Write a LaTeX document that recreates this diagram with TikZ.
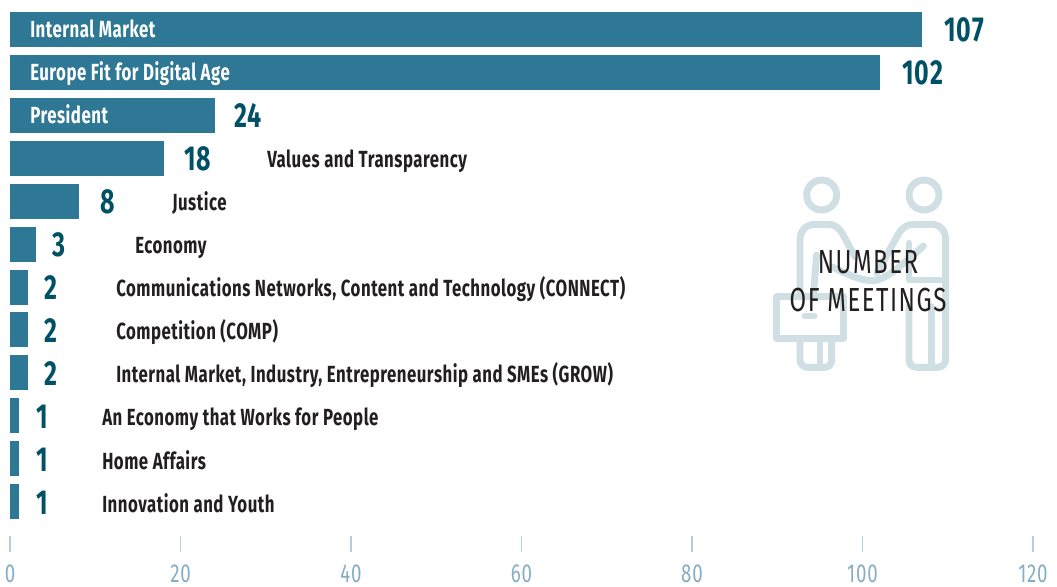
\documentclass[tikz,border=0pt]{standalone}
\usepackage{fontspec}
\setmainfont[FakeStretch=0.72]{Fira Sans}
\definecolor{barcol}{HTML}{2E7895}
\definecolor{valcol}{HTML}{005066}
\definecolor{txtcol}{HTML}{231F20}
\definecolor{tickcol}{HTML}{B4CEDB}
\definecolor{axcol}{HTML}{86ADC3}
\definecolor{iconcol}{HTML}{D0DFE3}
\tikzset{
  barbox/.style={fill=barcol,draw=none,inner sep=0pt,minimum height=26.25pt,anchor=north west},
  vallabel/.style={anchor=base west,inner sep=0pt,text=valcol,font=\fontsize{26}{26}\selectfont\bfseries\addfontfeature{LetterSpace=3}},
  inlabel/.style={anchor=base west,inner sep=0pt,text=white,font=\fontsize{17.5}{18}\selectfont\bfseries\addfontfeature{LetterSpace=2.2}},
  outlabel/.style={anchor=base west,inner sep=0pt,text=txtcol,font=\fontsize{17.5}{18}\selectfont\bfseries\addfontfeature{LetterSpace=2.2}},
  axlabel/.style={anchor=base,inner sep=0pt,text=axcol,font=\fontsize{19.5}{20}\selectfont\addfontfeature{LetterSpace=3}},
  tickline/.style={draw=tickcol,line width=1.1pt},
  iconline/.style={draw=iconcol,line width=5.2pt,line cap=round,line join=round},
  titlelabel/.style={anchor=base,inner sep=0pt,text=txtcol,font=\fontsize{25}{25}\selectfont\addfontfeature{LetterSpace=4.5}}
}
\begin{document}
\begin{tikzpicture}[x=0.75pt,y=-0.75pt]
\useasboundingbox (0,0) rectangle (1057,586);
% icon
\begin{scope}[shift={(760,160)},x=0.25pt,y=-0.25pt]
\draw[iconline] (185,105) circle[radius=45];
\draw[iconline] (492,105) circle[radius=45];
\draw[iconline] (120,405) -- (120,240) .. controls (120,210) and (140,193) .. (165,193) -- (205,193) .. controls (225,193) and (238,205) .. (248,222) -- (285,290);
\draw[iconline] (170,285) -- (160,405);
\draw[iconline] (215,320) .. controls (255,340) and (300,362) .. (338,362) .. controls (365,362) and (400,340) .. (490,258);
\draw[iconline] (350,340) -- (415,222) .. controls (425,205) and (440,193) .. (460,193) -- (515,193) .. controls (540,193) and (557,212) .. (557,240) -- (557,600) .. controls (557,612) and (545,622) .. (533,622) -- (470,622) .. controls (457,622) and (447,612) .. (447,600) -- (447,440);
\draw[iconline] (447,250) -- (447,360) -- (557,360);
\draw[iconline] (515,440) -- (515,622);
\draw[iconline] (50,410) -- (250,410) -- (250,535) -- (50,535) -- cycle;
\draw[iconline] (135,468) -- (162,468);
\draw[iconline] (120,535) -- (120,600) .. controls (120,612) and (130,622) .. (142,622) -- (195,622) .. controls (207,622) and (215,612) .. (215,600) -- (215,535);
\draw[iconline] (180,535) -- (180,622);
\end{scope}
% bars
\node[barbox,minimum width=684pt] (b1) at (10,12) {};
\node[barbox,minimum width=652.5pt] (b2) at (10,55) {};
\node[barbox,minimum width=153.75pt] (b3) at (10,98) {};
\node[barbox,minimum width=115.5pt] (b4) at (10,141) {};
\node[barbox,minimum width=51.75pt] (b5) at (10,183.5) {};
\node[barbox,minimum width=19.5pt] (b6) at (10,226.5) {};
\node[barbox,minimum width=13.5pt] (b7) at (10,269.5) {};
\node[barbox,minimum width=13.5pt] (b8) at (10,312) {};
\node[barbox,minimum width=13.5pt] (b9) at (10,355) {};
\node[barbox,minimum width=6.5pt] (b10) at (10,398) {};
\node[barbox,minimum width=6.5pt] (b11) at (10,441) {};
\node[barbox,minimum width=6.5pt] (b12) at (10,483.5) {};
% values
\node[vallabel] (v1) at (944,41) {107};
\node[vallabel] (v2) at (902,84) {102};
\node[vallabel] (v3) at (234,127) {24};
\node[vallabel] (v4) at (184,170) {18};
\node[vallabel] (v5) at (100,213) {8};
\node[vallabel] (v6) at (52,256) {3};
\node[vallabel] (v7) at (44,299) {2};
\node[vallabel] (v8) at (44,342) {2};
\node[vallabel] (v9) at (44,385) {2};
\node[vallabel] (v10) at (36,428) {1};
\node[vallabel] (v11) at (36,471) {1};
\node[vallabel] (v12) at (36,514) {1};
% labels
\node[inlabel] (l1) at (30,37.5) {Internal Market};
\node[inlabel] (l2) at (30,80.5) {Europe Fit for Digital Age};
\node[inlabel] (l3) at (30,123.5) {President};
\node[outlabel] (l4) at (267,167) {Values and Transparency};
\node[outlabel] (l5) at (172,210) {Justice};
\node[outlabel] (l6) at (135,253) {Economy};
\node[outlabel] (l7) at (116,296) {Communications Networks, Content and Technology (CONNECT)};
\node[outlabel] (l8) at (116,339) {Competition (COMP)};
\node[outlabel] (l9) at (116,382) {Internal Market, Industry, Entrepreneurship and SMEs (GROW)};
\node[outlabel] (l10) at (102,425) {An Economy that Works for People};
\node[outlabel] (l11) at (102,469) {Home Affairs};
\node[outlabel] (l12) at (102,512) {Innovation and Youth};
% title
\node[titlelabel] (t1) at (868,273) {NUMBER};
\node[titlelabel] (t2) at (868,311) {OF MEETINGS};
% axis
\foreach \v/\x in {0/10,20/180.5,40/351,60/521.5,80/692,100/862.5,120/1033}{
  \coordinate (ta\v) at (\x,536);
  \coordinate (tb\v) at (\x,552);
  \draw[tickline] (ta\v) -- (tb\v);
  \node[axlabel] (ax\v) at (\x,582) {\v};
}
\end{tikzpicture}
\end{document}
